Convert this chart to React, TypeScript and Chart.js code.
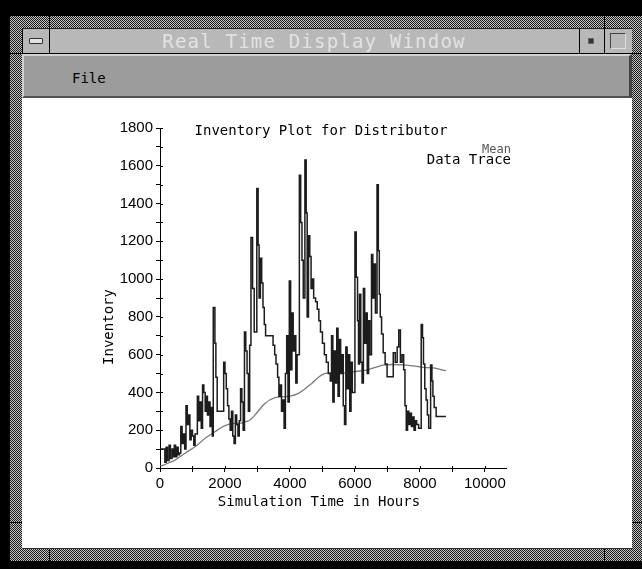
import React, { useEffect, useRef } from 'react';
import { Chart, registerables } from 'chart.js';

Chart.register(...registerables);

// ---------- data ----------
const traceHours = [
  0, 150, 190, 230, 280, 320, 370, 400, 440, 480, 520, 560, 600, 640, 680, 720, 760, 800, 840, 880,
  920, 960, 1000, 1040, 1080, 1150, 1190, 1230, 1270, 1310, 1350, 1390, 1420, 1460, 1500, 1540, 1580, 1610, 1640, 1690,
  1720, 1760, 1960, 2000, 2040, 2080, 2120, 2160, 2200, 2240, 2280, 2320, 2360, 2400, 2440, 2480, 2520, 2560, 2600, 2640,
  2680, 2720, 2760, 2800, 2850, 2900, 2980, 3020, 3050, 3090, 3130, 3170, 3210, 3250, 3480, 3530, 3570, 3620, 3660, 3700,
  3740, 3780, 3820, 3860, 3900, 3940, 3980, 4020, 4060, 4100, 4140, 4180, 4220, 4290, 4330, 4370, 4410, 4460, 4500, 4530,
  4570, 4610, 4650, 4690, 4730, 4790, 4840, 4890, 4940, 5000, 5060, 5120, 5180, 5240, 5280, 5320, 5360, 5400, 5440, 5480,
  5520, 5560, 5600, 5640, 5680, 5720, 5760, 5800, 5840, 5880, 5920, 6000, 6040, 6080, 6110, 6140, 6180, 6220, 6260, 6300,
  6340, 6380, 6420, 6460, 6510, 6550, 6590, 6630, 6680, 6720, 6750, 6780, 6820, 6870, 6930, 6990, 7180, 7240, 7300, 7350,
  7400, 7450, 7500, 7540, 7580, 7620, 7660, 7700, 7740, 7780, 7820, 7860, 7900, 7960, 8040, 8080, 8110, 8150, 8190, 8230,
  8270, 8330, 8370, 8400, 8440, 8500, 8800,
];
const traceValues = [
  100, 30, 110, 40, 120, 50, 100, 60, 120, 60, 110, 70, 80, 220, 130, 180, 100, 330, 230, 280,
  150, 200, 170, 120, 180, 380, 250, 350, 210, 440, 400, 300, 380, 280, 350, 220, 320, 170, 850, 660,
  480, 300, 560, 500, 420, 330, 260, 200, 300, 170, 130, 280, 230, 170, 250, 420, 350, 200, 720, 620,
  500, 300, 650, 1220, 950, 720, 1480, 1180, 900, 1110, 980, 850, 760, 700, 650, 600, 550, 480, 380, 440,
  300, 360, 210, 500, 700, 350, 990, 520, 820, 620, 700, 450, 600, 1550, 1300, 1100, 900, 1630, 1350, 800,
  1230, 1120, 950, 1000, 900, 880, 840, 780, 720, 660, 600, 560, 500, 460, 700, 350, 620, 450, 740, 380,
  680, 500, 600, 330, 230, 640, 420, 600, 300, 560, 400, 1250, 1010, 780, 550, 920, 560, 450, 950, 660,
  820, 500, 780, 600, 1130, 900, 1080, 820, 1500, 1150, 920, 800, 710, 610, 550, 483, 610, 560, 640, 730,
  560, 600, 520, 330, 200, 300, 230, 290, 220, 270, 200, 250, 230, 210, 760, 690, 550, 420, 360, 280,
  210, 545, 460, 380, 320, 272, 272,
];

const meanHours = [
  0, 150, 300, 460, 770, 1080, 1390, 1690, 2000, 2300, 2460, 2620, 2770, 2920, 3230, 3540, 3800,
  4000, 4260, 4470, 4670, 4970, 5180, 5540, 5950, 6360, 6870, 7180, 7590, 8100, 8400, 8620, 8800,
];
const meanValues = [
  10, 18, 30, 42, 78, 113, 157, 192, 224, 236, 236, 245, 254, 280, 342, 372, 377,
  380, 395, 420, 448, 492, 504, 502, 510, 518, 545, 548, 545, 533, 530, 522, 515,
];

const xTickValues = [0, 1000, 2000, 3000, 4000, 5000, 6000, 7000, 8000, 9000, 10000];
const xLabeledTicks = [0, 2000, 4000, 6000, 8000, 10000];
const yTickValues = [0, 100, 200, 300, 400, 500, 600, 700, 800, 900, 1000, 1100, 1200, 1300, 1400, 1500, 1600, 1700, 1800];
const yLabeledTicks = [0, 200, 400, 600, 800, 1000, 1200, 1400, 1600, 1800];

const chartTitle = 'Inventory Plot for Distributor';
const xAxisTitle = 'Simulation Time in Hours';
const yAxisTitle = 'Inventory';
const legendMean = 'Mean';
const legendTrace = 'Data Trace';
const windowTitle = 'Real Time Display Window';
const menuLabel = 'File';

const MONO = '"DejaVu Sans Mono", "Liberation Mono", monospace';

const overlayPlugin = {
  id: 'overlayTexts',
  afterDraw(chart: any) {
    const ctx = chart.ctx as CanvasRenderingContext2D;
    const { left, right, top, bottom } = chart.chartArea;
    const xs = chart.scales.x;
    const ys = chart.scales.y;
    ctx.save();
    // inner tick stubs (ticks cross the axis)
    ctx.strokeStyle = '#000';
    ctx.lineWidth = 1;
    ctx.beginPath();
    ys.ticks.forEach((t: any) => {
      const py = Math.round(ys.getPixelForValue(t.value)) + 0.5;
      ctx.moveTo(left, py);
      ctx.lineTo(left + 3, py);
    });
    xs.ticks.forEach((t: any) => {
      const px = Math.round(xs.getPixelForValue(t.value)) + 0.5;
      ctx.moveTo(px, bottom);
      ctx.lineTo(px, bottom - 2);
    });
    ctx.stroke();

    // texts
    ctx.fillStyle = '#000';
    ctx.font = `14px ${MONO}`;
    ctx.textBaseline = 'alphabetic';
    ctx.textAlign = 'center';
    ctx.fillText(chartTitle, left + 161, top + 7);
    ctx.fillText(xAxisTitle, left + 159, bottom + 38);

    ctx.textAlign = 'right';
    ctx.fillText(legendTrace, right + 5, top + 36);
    ctx.fillStyle = '#555';
    ctx.font = `12px ${MONO}`;
    ctx.fillText(legendMean, right + 5, top + 25);

    ctx.fillStyle = '#000';
    ctx.font = `14px ${MONO}`;
    ctx.translate(left - 47, top + 199);
    ctx.rotate(-Math.PI / 2);
    ctx.textAlign = 'center';
    ctx.fillText(yAxisTitle, 0, 0);
    ctx.restore();
  },
};

export default function App() {
  const ref = useRef<HTMLCanvasElement>(null);

  useEffect(() => {
    if (!ref.current) return;
    const chart = new Chart(ref.current, {
      type: 'line',
      data: {
        datasets: [
          {
            label: legendTrace,
            data: traceHours.map((h, i) => ({ x: h, y: traceValues[i] })),
            borderColor: '#1c1c1c',
            borderWidth: 1.5,
            stepped: true,
            pointRadius: 0,
            fill: false,
          },
          {
            label: legendMean,
            data: meanHours.map((h, i) => ({ x: h, y: meanValues[i] })),
            borderColor: '#7a7a7a',
            borderWidth: 1.3,
            cubicInterpolationMode: 'monotone',
            pointRadius: 0,
            fill: false,
          },
        ],
      },
      options: {
        responsive: false,
        animation: false,
        events: [],
        layout: { padding: { top: 30, right: 126, left: 0, bottom: 0 } },
        plugins: { legend: { display: false }, tooltip: { enabled: false }, title: { display: false } },
        scales: {
          x: {
            type: 'linear',
            min: 0,
            max: 10650,
            afterFit: (s: any) => { s.height = 80; },
            afterBuildTicks: (s: any) => {
              s.ticks = xTickValues.map((v) => ({ value: v }));
            },
            ticks: {
              autoSkip: false,
              maxRotation: 0,
              minRotation: 0,
              padding: 3,
              color: '#000',
              font: { family: '"Liberation Sans", Arial, sans-serif', size: 15 },
              callback: (v: any) => (xLabeledTicks.includes(Number(v)) ? String(v) : ''),
            },
            grid: { display: true, drawOnChartArea: false, drawTicks: true, tickLength: 4, color: '#000', lineWidth: 1 },
            border: { display: true, color: '#000', width: 1 },
          },
          y: {
            type: 'linear',
            min: 0,
            max: 1800,
            afterFit: (s: any) => { s.width = 138; },
            afterBuildTicks: (s: any) => {
              s.ticks = yTickValues.map((v) => ({ value: v }));
            },
            ticks: {
              autoSkip: false,
              padding: 3,
              color: '#000',
              font: { family: '"Liberation Sans", Arial, sans-serif', size: 15 },
              callback: (v: any) => (yLabeledTicks.includes(Number(v)) ? String(v) : ''),
            },
            grid: { display: true, drawOnChartArea: false, drawTicks: true, tickLength: 4, color: '#000', lineWidth: 1 },
            border: { display: true, color: '#000', width: 1 },
          },
        },
      },
      plugins: [overlayPlugin],
    } as any);
    return () => chart.destroy();
  }, []);

  const stipple: React.CSSProperties = {
    position: 'absolute',
    backgroundColor: '#000',
    backgroundImage: 'repeating-conic-gradient(#c4c4c4 0% 25%, #1a1a1a 0% 50%)',
    backgroundSize: '2px 2px',
  };
  const abs = (l: number, t: number, w: number, h: number, extra: React.CSSProperties = {}): React.CSSProperties => ({
    position: 'absolute', left: l, top: t, width: w, height: h, ...extra,
  });

  return (
    <div style={{ position: 'fixed', left: 0, top: 0, width: 642, height: 569, background: '#000', overflow: 'hidden' }}>
      {/* stippled frame */}
      <div style={{ ...stipple, left: 10, top: 16, width: 632, height: 545 }} />
      {/* frame notches */}
      <div style={abs(49, 16, 1, 12, { background: '#000' })} />
      <div style={abs(604, 16, 1, 12, { background: '#000' })} />
      <div style={abs(49, 549, 1, 12, { background: '#000' })} />
      <div style={abs(604, 549, 1, 12, { background: '#000' })} />
      <div style={abs(10, 522, 12, 1, { background: '#000' })} />
      <div style={abs(632, 522, 10, 1, { background: '#000' })} />

      {/* title bar */}
      <div style={abs(22, 28, 610, 25, { background: '#b8b8b8', borderTop: '1px solid #222', boxSizing: 'border-box' })} />
      <div style={abs(22, 28, 1, 26, { background: '#000' })} />
      <div style={abs(10, 53, 632, 1, { background: '#000' })} />
      <div style={abs(49, 28, 1, 25, { background: '#000' })} />
      <div style={abs(579, 28, 1, 25, { background: '#000' })} />
      <div style={abs(604, 28, 1, 25, { background: '#000' })} />
      {/* minimize icon */}
      <div style={abs(29, 38, 14, 6, { background: '#e2e2e2', border: '1px solid #333', borderRadius: 1, boxSizing: 'border-box' })} />
      {/* small square icon */}
      <div style={abs(588, 38, 6, 6, { background: '#333', border: '1px solid #666', boxSizing: 'border-box' })} />
      {/* big square icon */}
      <div style={abs(610, 33, 16, 16, { border: '1px solid #444', borderRightColor: '#ddd', borderBottomColor: '#ddd', boxSizing: 'border-box' })} />
      <div
        style={abs(0, 32, 628, 22, {
          textAlign: 'center', color: '#e2e2e2', font: `19px ${MONO}`, lineHeight: '19px', letterSpacing: '1.2px', whiteSpace: 'pre',
        })}
      >
        {windowTitle}
      </div>

      {/* menu bar */}
      <div
        style={abs(22, 54, 610, 44, {
          background: '#9c9c9c',
          borderTop: '2px solid #d2d2d2',
          borderLeft: '2px solid #d2d2d2',
          borderBottom: '2px solid #505050',
          borderRight: '3px solid #444',
          boxSizing: 'border-box',
        })}
      />
      <div style={abs(72, 71, 60, 16, { font: `14px ${MONO}`, lineHeight: '14px', color: '#000' })}>{menuLabel}</div>

      {/* white drawing area */}
      <div style={abs(22, 98, 610, 450, { background: '#fff' })} />
      <div style={abs(22, 548, 610, 1, { background: '#333' })} />
      <canvas ref={ref} width={610} height={450} style={{ position: 'absolute', left: 22, top: 98, width: 610, height: 450 }} />
    </div>
  );
}
